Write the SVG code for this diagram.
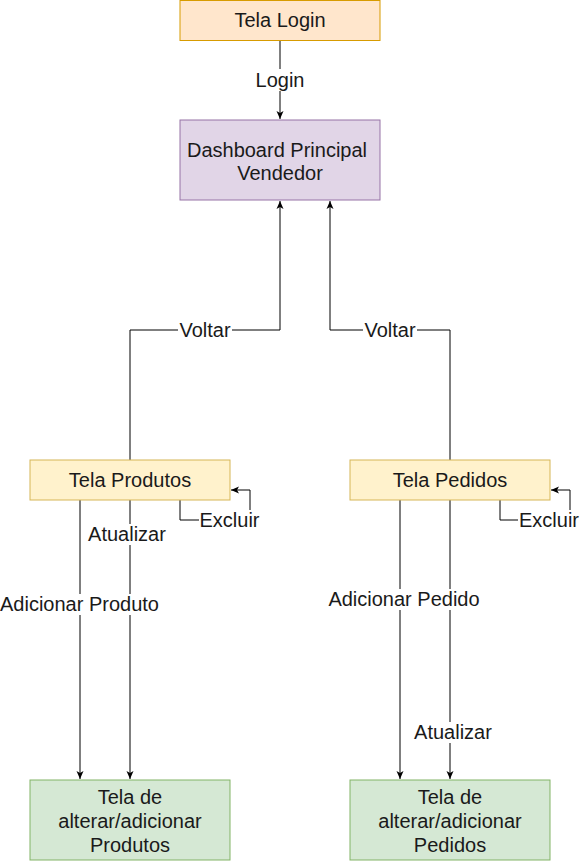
<svg xmlns="http://www.w3.org/2000/svg" width="580" height="861" viewBox="0 0 580 861">
<style>
text{font-family:"Liberation Sans",Arial,sans-serif;font-size:20px;fill:#1a1a1a;text-anchor:middle}
.e{fill:none;stroke:#000;stroke-width:1}
.lb{fill:#fff;stroke:none}
</style>
<defs>
<marker id="a" viewBox="0 0 8 8" refX="8" refY="4" markerWidth="8" markerHeight="8" markerUnits="userSpaceOnUse" orient="auto">
<path d="M0,0.5 L8,4 L0,7.5 L2,4 z" fill="#000"/>
</marker>
</defs>
<rect width="580" height="861" fill="#fff"/>
<g id="edges">
<path class="e" d="M280,40 V119" marker-end="url(#a)"/>
<path class="e" d="M130,460 V330 H280 V201" marker-end="url(#a)"/>
<path class="e" d="M450,460 V330 H330 V201" marker-end="url(#a)"/>
<path class="e" d="M180,500 V520 H250 V490 H231" marker-end="url(#a)"/>
<path class="e" d="M500,500 V520 H570 V490 H551" marker-end="url(#a)"/>
<path class="e" d="M80,500 V779" marker-end="url(#a)"/>
<path class="e" d="M130,500 V779" marker-end="url(#a)"/>
<path class="e" d="M400,500 V779" marker-end="url(#a)"/>
<path class="e" d="M450,500 V779" marker-end="url(#a)"/>
<rect class="lb" x="254" y="69" width="52" height="22"/>
<text x="280" y="87">Login</text>
<rect class="lb" x="178" y="320" width="54" height="21"/>
<text x="205" y="337">Voltar</text>
<rect class="lb" x="363" y="320" width="54" height="21"/>
<text x="390" y="337">Voltar</text>
<rect class="lb" x="199" y="510" width="62" height="21"/>
<text x="229.5" y="527">Excluir</text>
<rect class="lb" x="518" y="510" width="62" height="21"/>
<text x="549" y="527">Excluir</text>
<rect class="lb" x="86" y="524" width="82" height="21"/>
<text x="127" y="541">Atualizar</text>
<rect class="lb" x="0" y="594" width="160" height="21"/>
<text x="79.5" y="611">Adicionar Produto</text>
<rect class="lb" x="327" y="589" width="154" height="21"/>
<text x="404" y="606">Adicionar Pedido</text>
<rect class="lb" x="412" y="722" width="82" height="21"/>
<text x="453" y="739">Atualizar</text>
</g>
<g id="tela-login">
<rect x="180" y="0.5" width="200" height="40" fill="#ffe6cc" stroke="#d79b00"/>
<text x="280" y="27">Tela Login</text>
</g>
<g id="dashboard">
<rect x="180" y="120" width="200" height="80" fill="#e1d5e7" stroke="#9673a6"/>
<text x="277" y="156.5">Dashboard Principal</text>
<text x="280" y="179.5">Vendedor</text>
</g>
<g id="tela-produtos">
<rect x="30" y="460" width="200" height="40" fill="#fff2cc" stroke="#d6b656"/>
<text x="130" y="487">Tela Produtos</text>
</g>
<g id="tela-pedidos">
<rect x="350" y="460" width="200" height="40" fill="#fff2cc" stroke="#d6b656"/>
<text x="450" y="487">Tela Pedidos</text>
</g>
<g id="alterar-produtos">
<rect x="30" y="780" width="200" height="80" fill="#d5e8d4" stroke="#82b366"/>
<text x="130" y="804">Tela de</text>
<text x="130" y="828">alterar/adicionar</text>
<text x="130" y="852">Produtos</text>
</g>
<g id="alterar-pedidos">
<rect x="350" y="780" width="200" height="80" fill="#d5e8d4" stroke="#82b366"/>
<text x="450" y="804">Tela de</text>
<text x="450" y="828">alterar/adicionar</text>
<text x="450" y="852">Pedidos</text>
</g>
</svg>
